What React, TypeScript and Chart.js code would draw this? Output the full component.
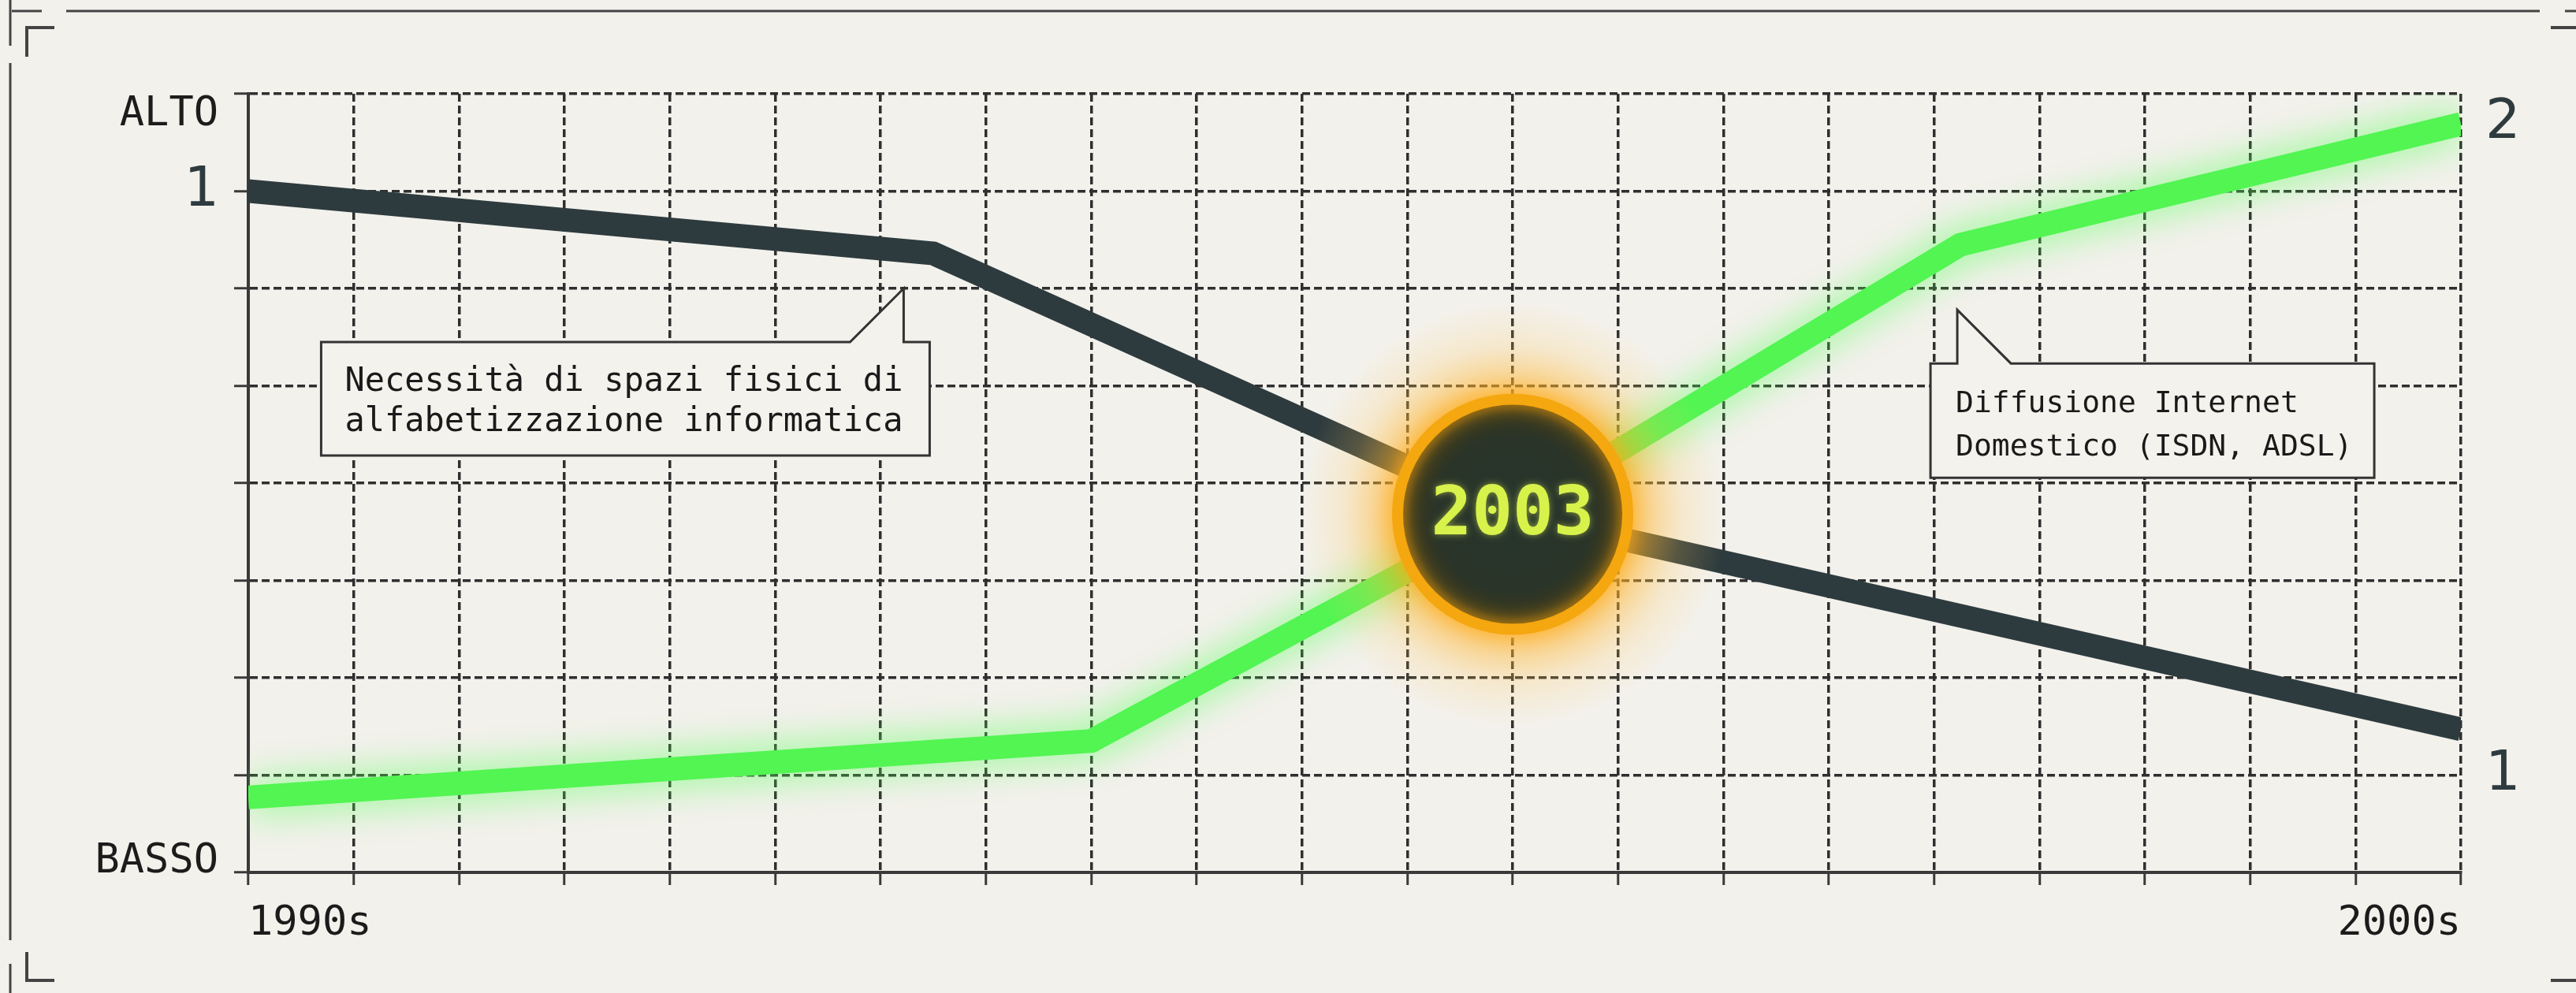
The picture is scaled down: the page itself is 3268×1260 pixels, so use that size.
import React, { useEffect, useRef } from 'react';
import { Chart, registerables } from 'chart.js';

Chart.register(...registerables);

// ---------- data ----------
const decadeLabels = ['1990s', '2000s'];
const xMin = 0;
const xMax = 21;
const yMin = 0;
const yMax = 8;
const yLevelLabels = ['BASSO', 'ALTO'];
const leftTickValues = [7];
const leftTickLabels = ['1'];
const rightTickValues = [1, 7.69];
const rightTickLabels = ['1', '2'];

const needSpaceX = [0, 6.5, 12, 21];
const needSpaceY = [7.0, 6.36, 3.68, 1.47];
const internetX = [0, 8, 12, 16.25, 21];
const internetY = [0.77, 1.35, 3.68, 6.45, 7.69];

const crossoverLabel = '2003';
const crossoverX = 12;
const crossoverY = 3.68;

const calloutLeftLines = ['Necessità di spazi fisici di', 'alfabetizzazione informatica'];
const calloutLeftAnchor = [6.22, 6.0];
const calloutRightLines = ['Diffusione Internet', 'Domestico (ISDN, ADSL)'];
const calloutRightAnchor = [16.22, 5.78];

// ---------- styles ----------
const W = 3268;
const H = 1260;
const BG = '#f3f1ec';
const MONO = '"DejaVu Sans Mono", monospace';
const SANS = '"DejaVu Sans", sans-serif';
const DARK = '#2e3b3e';
const GREEN = '#52f552';

const decorPlugin = {
  id: 'decor',
  beforeDraw(chart: any) {
    const ctx = chart.ctx;
    ctx.save();
    ctx.fillStyle = BG;
    ctx.fillRect(0, 0, chart.width, chart.height);
    ctx.strokeStyle = '#444444';
    ctx.lineCap = 'butt';
    const seg = (x1: number, y1: number, x2: number, y2: number) => {
      ctx.beginPath();
      ctx.moveTo(x1, y1);
      ctx.lineTo(x2, y2);
      ctx.stroke();
    };
    ctx.lineWidth = 3;
    seg(15, 14, 53, 14);
    seg(84, 14, 3222, 14);
    seg(3254, 14, 3268, 14);
    seg(13, 0, 13, 58);
    seg(13, 80, 13, 1193);
    seg(13, 1223, 13, 1260);
    ctx.lineWidth = 4;
    ctx.beginPath();
    ctx.moveTo(34, 72);
    ctx.lineTo(34, 35);
    ctx.lineTo(69, 35);
    ctx.stroke();
    ctx.beginPath();
    ctx.moveTo(34, 1208);
    ctx.lineTo(34, 1244);
    ctx.lineTo(69, 1244);
    ctx.stroke();
    seg(3236, 35, 3268, 35);
    seg(3236, 1244, 3268, 1244);
    ctx.restore();
  },
  beforeDatasetDraw(chart: any, args: any) {
    if (args.index === 1) {
      const ctx = chart.ctx;
      ctx.save();
      ctx.shadowColor = 'rgba(90,255,90,0.8)';
      ctx.shadowBlur = 50;
      ctx.shadowOffsetX = 0;
      ctx.shadowOffsetY = 0;
    }
  },
  afterDatasetDraw(chart: any, args: any) {
    if (args.index === 1) chart.ctx.restore();
  },
  afterDatasetsDraw(chart: any) {
    const ctx = chart.ctx;
    const xs = chart.scales.x;
    const ys = chart.scales.y;
    const cx = xs.getPixelForValue(crossoverX);
    const cy = ys.getPixelForValue(crossoverY);
    ctx.save();
    // halo
    const g = ctx.createRadialGradient(cx, cy, 130, cx, cy, 270);
    g.addColorStop(0, 'rgba(255,168,20,0.85)');
    g.addColorStop(0.25, 'rgba(255,178,40,0.55)');
    g.addColorStop(0.6, 'rgba(255,195,80,0.2)');
    g.addColorStop(1, 'rgba(255,205,100,0)');
    ctx.fillStyle = g;
    ctx.beginPath();
    ctx.arc(cx, cy, 270, 0, Math.PI * 2);
    ctx.fill();
    // disc
    const f = ctx.createRadialGradient(cx, cy, 0, cx, cy, 142);
    f.addColorStop(0, '#26352c');
    f.addColorStop(0.7, '#2a3428');
    f.addColorStop(0.9, '#3b3a1e');
    f.addColorStop(1, '#6b5112');
    ctx.fillStyle = f;
    ctx.beginPath();
    ctx.arc(cx, cy, 142, 0, Math.PI * 2);
    ctx.fill();
    ctx.shadowColor = 'rgba(255,170,20,0.8)';
    ctx.shadowBlur = 25;
    ctx.strokeStyle = '#f4a70f';
    ctx.lineWidth = 14;
    ctx.beginPath();
    ctx.arc(cx, cy, 146, 0, Math.PI * 2);
    ctx.stroke();
    ctx.shadowColor = 'rgba(216,242,76,0.55)';
    ctx.shadowBlur = 8;
    ctx.fillStyle = '#d8f24c';
    ctx.font = `bold 86px ${MONO}`;
    ctx.textAlign = 'center';
    ctx.textBaseline = 'middle';
    ctx.fillText(crossoverLabel, cx, cy + 3);
    ctx.restore();
  },
  afterDraw(chart: any) {
    const ctx = chart.ctx;
    const xs = chart.scales.x;
    const ys = chart.scales.y;
    ctx.save();
    // level labels
    ctx.fillStyle = '#1c1c1c';
    ctx.font = `52px ${MONO}`;
    ctx.textAlign = 'right';
    ctx.textBaseline = 'middle';
    ctx.fillText(yLevelLabels[1], 277, ys.getPixelForValue(yMax) + 26);
    ctx.fillText(yLevelLabels[0], 277, ys.getPixelForValue(yMin) - 14);

    const drawBox = (pts: number[][]) => {
      ctx.beginPath();
      ctx.moveTo(pts[0][0], pts[0][1]);
      for (let i = 1; i < pts.length; i++) ctx.lineTo(pts[i][0], pts[i][1]);
      ctx.closePath();
      ctx.fillStyle = '#f4f2ed';
      ctx.fill();
      ctx.strokeStyle = '#333333';
      ctx.lineWidth = 3;
      ctx.lineJoin = 'miter';
      ctx.stroke();
    };
    // left callout
    {
      const tx = xs.getPixelForValue(calloutLeftAnchor[0]);
      const ty = ys.getPixelForValue(calloutLeftAnchor[1]);
      const L = tx - 739, R = tx + 33, T = ty + 68, B = ty + 212;
      drawBox([[L, T], [tx - 68, T], [tx, ty], [tx, T], [R, T], [R, B], [L, B]]);
      ctx.fillStyle = '#1a1a1a';
      ctx.font = `42px ${MONO}`;
      ctx.textAlign = 'left';
      ctx.textBaseline = 'alphabetic';
      ctx.fillText(calloutLeftLines[0], L + 30, T + 62);
      ctx.fillText(calloutLeftLines[1], L + 30, T + 113);
    }
    // right callout
    {
      const tx = xs.getPixelForValue(calloutRightAnchor[0]);
      const ty = ys.getPixelForValue(calloutRightAnchor[1]);
      const L = tx - 34, R = tx + 529, T = ty + 68, B = ty + 213;
      drawBox([[L, T], [tx, T], [tx, ty], [tx + 68, T], [R, T], [R, B], [L, B]]);
      ctx.fillStyle = '#1a1a1a';
      ctx.font = `38px ${MONO}`;
      ctx.textAlign = 'left';
      ctx.textBaseline = 'alphabetic';
      ctx.fillText(calloutRightLines[0], L + 32, T + 62);
      ctx.fillText(calloutRightLines[1], L + 32, T + 117);
    }
    ctx.restore();
  },
};

export default function App() {
  const ref = useRef<HTMLCanvasElement | null>(null);

  useEffect(() => {
    document.body.style.margin = '0';
    document.body.style.background = BG;
    const canvas = ref.current;
    if (!canvas) return;
    const gridColor = '#2f2f2f';
    const chart = new Chart(canvas, {
      type: 'line',
      data: {
        datasets: [
          {
            label: 'Necessità di spazi fisici',
            data: needSpaceX.map((x, i) => ({ x, y: needSpaceY[i] })),
            borderColor: DARK,
            borderWidth: 30,
            pointRadius: 0,
            tension: 0,
            borderJoinStyle: 'miter',
            borderCapStyle: 'butt',
            fill: false,
          },
          {
            label: 'Diffusione Internet',
            data: internetX.map((x, i) => ({ x, y: internetY[i] })),
            borderColor: GREEN,
            borderWidth: 30,
            pointRadius: 0,
            tension: 0,
            borderJoinStyle: 'miter',
            borderCapStyle: 'butt',
            fill: false,
          },
        ],
      },
      options: {
        animation: false,
        responsive: false,
        devicePixelRatio: 1,
        layout: { padding: { top: 119, left: 0, right: 0, bottom: 0 } },
        plugins: { legend: { display: false }, tooltip: { enabled: false } },
        scales: {
          x: {
            type: 'linear',
            min: xMin,
            max: xMax,
            afterFit: (s: any) => {
              s.height = 153;
            },
            ticks: {
              stepSize: 1,
              autoSkip: false,
              maxRotation: 0,
              align: 'inner',
              padding: 18,
              color: '#1b1b1b',
              font: { family: MONO, size: 52 },
              callback: (v: any) => (v === xMin ? decadeLabels[0] : v === xMax ? decadeLabels[1] : ''),
            },
            grid: {
              color: gridColor,
              lineWidth: 3.5,
              tickLength: 16,
              tickColor: '#3a3a3a',
              tickWidth: 3,
              tickBorderDash: [],
            },
            border: { display: true, color: '#3a3a3a', width: 4, dash: [10, 5] },
          },
          y: {
            type: 'linear',
            position: 'left',
            min: yMin,
            max: yMax,
            afterFit: (s: any) => {
              s.width = 315;
            },
            ticks: {
              stepSize: 1,
              padding: 19,
              color: DARK,
              font: { family: SANS, size: 70 },
              callback: (v: any) => {
                const i = leftTickValues.indexOf(v);
                return i >= 0 ? leftTickLabels[i] : '';
              },
            },
            grid: {
              color: gridColor,
              lineWidth: 3.5,
              tickLength: 18,
              tickColor: '#3a3a3a',
              tickWidth: 3,
              tickBorderDash: [],
            },
            border: { display: true, color: '#3a3a3a', width: 4, dash: [10, 5] },
          },
          y2: {
            type: 'linear',
            position: 'right',
            min: yMin,
            max: yMax,
            afterFit: (s: any) => {
              s.width = 146;
            },
            afterBuildTicks: (s: any) => {
              s.ticks = rightTickValues.map((value) => ({ value }));
            },
            ticks: {
              padding: 31,
              color: DARK,
              font: { family: SANS, size: 70 },
              callback: (v: any) => {
                const i = rightTickValues.indexOf(v);
                return i >= 0 ? rightTickLabels[i] : '';
              },
            },
            grid: { display: false, drawTicks: false },
            border: { display: false },
          },
        },
      } as any,
      plugins: [decorPlugin],
    });
    return () => chart.destroy();
  }, []);

  return (
    <div style={{ position: 'absolute', left: 0, top: 0, width: W, height: H, background: BG }}>
      <canvas ref={ref} width={W} height={H} style={{ display: 'block', width: W, height: H }} />
    </div>
  );
}
